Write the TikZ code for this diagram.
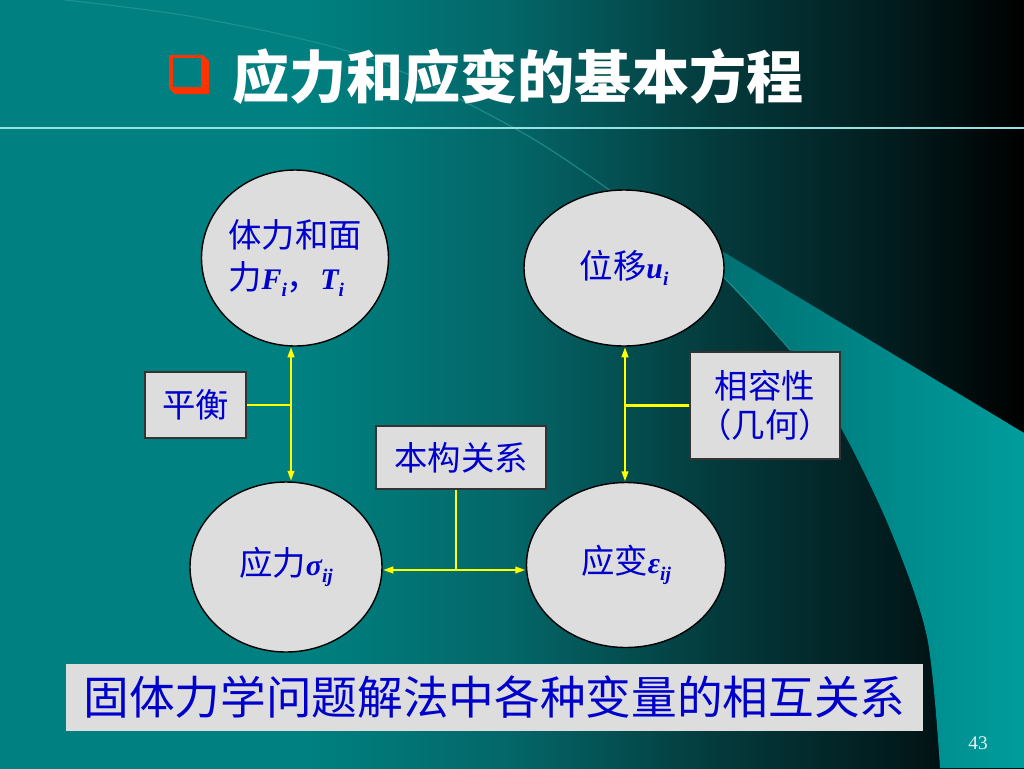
\documentclass[tikz,border=0pt]{standalone}
\usepackage{fontspec}
\usepackage{tikz}
\usetikzlibrary{shapes.geometric, arrows.meta}
\setmainfont{Liberation Serif}
\newfontfamily\cjk{Noto Sans CJK SC}
\newfontfamily\cjkhalf[RawFeature=+halt]{Noto Sans CJK SC}
\definecolor{bgteal}{RGB}{0, 128, 128}
\definecolor{bgmid}{RGB}{4, 102, 104}
\definecolor{bgdark}{RGB}{4, 58, 60}
\definecolor{bgdeep}{RGB}{2, 26, 28}
\definecolor{wedgelo}{RGB}{0, 106, 108}
\definecolor{wedgehi}{RGB}{0, 156, 156}
\definecolor{edge}{RGB}{40, 150, 150}
\definecolor{rule}{RGB}{150, 225, 225}
\definecolor{bullet}{RGB}{255, 51, 0}
\definecolor{paper}{RGB}{221, 221, 221}
\definecolor{ink}{RGB}{0, 0, 204}
\definecolor{yel}{RGB}{255, 255, 0}
\definecolor{pagenum}{RGB}{232, 244, 244}
\newcommand*{\px}{0.02cm}
\newcommand*{\fvar}[2]{{\rmfamily\bfseries\itshape\fontsize{17}{17}\selectfont #1}%
  \raisebox{-0.35ex}{\rmfamily\bfseries\itshape\fontsize{11}{11}\selectfont #2}}
% the path box spans 25bp..75bp of a horizontal shading
\pgfdeclarehorizontalshading{bgshade}{100bp}{color(0bp)=(bgteal); color(40bp)=(bgteal);
  color(50bp)=(bgmid); color(60bp)=(bgdark); color(69bp)=(bgdeep); color(75bp)=(black);
  color(100bp)=(black)}

\begin{document}
\begin{tikzpicture}[
   x=\px, y=-\px,
   bubble/.style={ellipse, draw=black, fill=paper, line width=0.8, text=ink,
                  inner sep=-10pt, font=\cjk\fontsize{19}{24}\selectfont},
   tag/.style={rectangle, draw=black!80, fill=paper, line width=0.8, text=ink,
               inner sep=0, font=\cjk\fontsize{19}{22}\selectfont},
   yline/.style={draw=yel, line width=1.6, >={Triangle[length=6pt, width=3.6pt]}}
  ]

  % Background
  \useasboundingbox (0, 0) rectangle (1024, 768);
  \shade[shading=bgshade] (0, 0) rectangle (1024, 768);
  \shade[left color=wedgelo, right color=wedgehi]
    (672, 221) -- (1024, 433) -- (1024, 768)
    -- plot[smooth] coordinates {(940, 768) (927, 637) (890, 529) (840, 426)
                                 (790, 350) (723, 277) (672, 221)} -- cycle;
  \draw[edge, line width=0.7, opacity=0.7] plot[smooth] coordinates {(65, 0) (200, 18)
    (366, 57) (523, 133) (640, 212) (723, 277) (790, 350)};
  \draw[rule, line width=1.2] (0, 128) -- (1024, 128);

  % Title
  \fill[bullet] (169, 55) -- (203, 55) -- (209, 61) -- (209, 94) -- (175, 94)
    -- (169, 88) -- cycle;
  \fill[bgteal] (173, 58) rectangle (201, 87);
  \node[anchor=west, text=white, inner sep=0,
        font=\cjk\bfseries\fontsize{32.5}{38}\selectfont] (title) at (232, 77)
    {应力和应变的基本方程};

  % Quantities
  \node (force) at (295, 258) [bubble, minimum width=187*\px, minimum height=176*\px,
                               align=left] {体力和面\\力\fvar{F}{i}，\fvar{T}{i}};

  \node (disp) at (624, 268) [bubble, minimum width=200*\px, minimum height=156*\px]
    {位移\fvar{u}{i}};

  \node (stress) at (286, 567) [bubble, minimum width=192*\px, minimum height=170*\px]
    {应力\fvar{σ}{ij}};

  \node (strain) at (626, 565) [bubble, minimum width=199*\px, minimum height=165*\px]
    {应变\fvar{ε}{ij}};

  % Relations
  \node (equil) at (195.5, 405) [tag, minimum width=101*\px, minimum height=66*\px] {平衡};

  \node (compat) at (765, 405.5) [tag, minimum width=150*\px, minimum height=107*\px,
                                  align=center] {相容性\\{\cjkhalf（几何）}};

  \node (const) at (461, 457.5) [tag, minimum width=170*\px, minimum height=63*\px]
    {本构关系};

  \node (summary) at (494.5, 697.5) [tag, draw=paper, minimum width=855*\px,
                                     minimum height=65*\px,
                                     font=\cjk\fontsize{26}{30}\selectfont]
    {固体力学问题解法中各种变量的相互关系};

  \node (page) at (978, 743) [text=pagenum, inner sep=0, font=\fontsize{11}{13}\selectfont]
    {43};

  % Junctions
  \coordinate (jl) at (291, 404);
  \coordinate (jr) at (625, 405);
  \coordinate (jb) at (456, 570);

  \foreach \J/\A/\B in {jl/force/stress, jr/disp/strain} {
    \draw[yline, <->] (\J |- \A.south) -- (\J |- \B.north);
  }
  \draw[yline, <->] (jb -| stress.east) -- (jb -| strain.west);

  \draw[yline] (equil.east) -- (equil.east -| jl);
  \draw[yline] (compat.west) -- (compat.west -| jr);
  \draw[yline] (jb |- const.south) -- (jb);

\end{tikzpicture}
\end{document}
